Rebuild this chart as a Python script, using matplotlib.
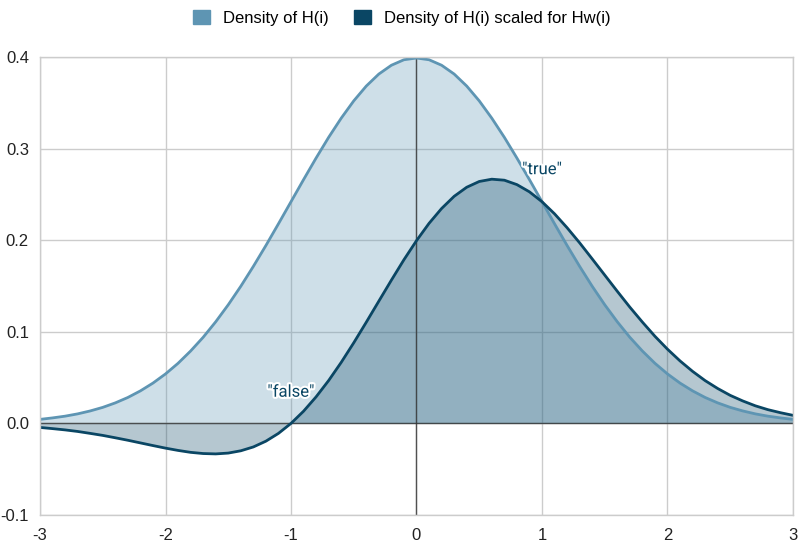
import numpy as np
import matplotlib
matplotlib.use("Agg")
import matplotlib.pyplot as plt
import matplotlib.patheffects as pe

# x positions of the sampled points
x = np.round(np.arange(-3.0, 3.01, 0.1), 1)

# Density of H(i) (symmetric around 0)
half = [0.3989, 0.3970, 0.3910, 0.3814, 0.3683, 0.3521, 0.3332, 0.3123, 0.2897, 0.2661,
        0.2420, 0.2179, 0.1942, 0.1714, 0.1497, 0.1295, 0.1109, 0.0940, 0.0790, 0.0656,
        0.0540, 0.0440, 0.0355, 0.0283, 0.0224, 0.0175, 0.0136, 0.0104, 0.0079, 0.0060,
        0.0044]
density = half[::-1][:-1] + half

# Density of H(i) scaled for Hw(i)
scaled = [-0.0044, -0.0057, -0.0071, -0.0088, -0.0109, -0.0131, -0.0157, -0.0184, -0.0213, -0.0242,
          -0.0270, -0.0295, -0.0316, -0.0329, -0.0333, -0.0324, -0.0299, -0.0257, -0.0194, -0.0109,
          0.0000, 0.0133, 0.0290, 0.0468, 0.0666, 0.0880, 0.1105, 0.1335, 0.1564, 0.1787,
          0.1995, 0.2184, 0.2346, 0.2479, 0.2578, 0.2641, 0.2666, 0.2655, 0.2607, 0.2528,
          0.2420, 0.2288, 0.2136, 0.1971, 0.1796, 0.1619, 0.1442, 0.1269, 0.1106, 0.0951,
          0.0810, 0.0682, 0.0568, 0.0467, 0.0381, 0.0306, 0.0245, 0.0192, 0.0150, 0.0117,
          0.0088]

labels = ["Density of H(i)", "Density of H(i) scaled for Hw(i)"]
annotations = [(-1.0, 0.034, '"false"'), (1.0, 0.277, '"true"')]
xticks = [-3, -2, -1, 0, 1, 2, 3]
yticks = [-0.1, 0.0, 0.1, 0.2, 0.3, 0.4]

light = "#5e95b3"
dark = "#0a4664"

fig = plt.figure(figsize=(8.04, 5.5), dpi=100)
ax = fig.add_axes([40 / 804, 35 / 550, 753 / 804, 458 / 550])

ax.fill_between(x, 0, density, color=light, alpha=0.3, lw=0)
ax.fill_between(x, 0, scaled, color=dark, alpha=0.3, lw=0)
ax.plot(x, density, color=light, lw=2.0, label=labels[0], solid_capstyle="round")
ax.plot(x, scaled, color=dark, lw=2.0, label=labels[1], solid_capstyle="round")

ax.axhline(0, color="#333333", lw=1.0, alpha=0.8, zorder=1.5)
ax.axvline(0, color="#333333", lw=1.0, alpha=0.8, zorder=1.5)

for ax_x, ax_y, txt in annotations:
    ax.text(ax_x, ax_y, txt, ha="center", va="center", fontsize=12, color=dark,
            family="Roboto",
            path_effects=[pe.withStroke(linewidth=3, foreground="white")])

ax.set_xlim(-3, 3)
ax.set_ylim(-0.1, 0.4)
ax.set_xticks(xticks)
ax.set_yticks(yticks)
ax.set_xticklabels([str(t) for t in xticks])
ax.set_yticklabels([f"{t:.1f}" for t in yticks])
ax.grid(True, color="#cccccc", lw=1.0)
ax.set_axisbelow(True)
ax.tick_params(length=0, labelsize=12, colors="#222222")
ax.tick_params(axis="y", pad=8)
ax.tick_params(axis="x", pad=9)
for t in ax.get_xticklabels() + ax.get_yticklabels():
    t.set_family("Liberation Sans")
for s in ax.spines.values():
    s.set_color("#cccccc")
    s.set_linewidth(1.0)

handles = [plt.Rectangle((0, 0), 1, 1, color=light), plt.Rectangle((0, 0), 1, 1, color=dark)]
fig.legend(handles, labels, loc="upper center", bbox_to_anchor=(0.5, 1.01), ncol=2,
           frameon=False, prop={"family": "Liberation Sans", "size": 12},
           handlelength=1.0, handleheight=1.0, columnspacing=1.5, handletextpad=0.8)

fig.savefig("out.png", dpi=100)
